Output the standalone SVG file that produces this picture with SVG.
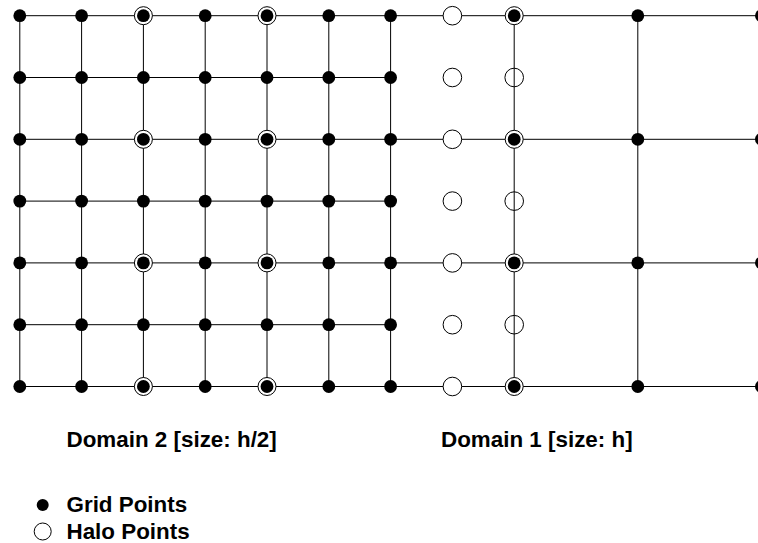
<svg xmlns="http://www.w3.org/2000/svg" width="758" height="543" viewBox="0 0 758 543">
<style>
.ln{stroke:#000;stroke-width:1;fill:none}
.lbl{font-family:"Liberation Sans",Arial,sans-serif;font-weight:bold;font-size:22.4px;fill:#000}
</style>
<defs>
<circle id="dot" r="6.4" fill="#000"/>
<g id="ringdot"><circle r="9" fill="#fff" stroke="#000" stroke-width="1"/><circle r="6.4" fill="#000"/></g>
<circle id="halo" r="9.3" fill="#fff" stroke="#000" stroke-width="1"/>
<circle id="haloopen" r="9.3" fill="none" stroke="#000" stroke-width="1"/>
</defs>
<rect width="758" height="543" fill="#fff"/>
<g id="connectors" class="ln">
<path d="M19.8 15.7H758M19.8 139.3H758M19.8 262.9H758M19.8 386.5H758"/>
<path d="M19.8 77.5H390.6M19.8 201.1H390.6M19.8 324.7H390.6"/>
<path d="M19.8 15.7V386.5M81.6 15.7V386.5M143.4 15.7V386.5M205.2 15.7V386.5M267 15.7V386.5M328.8 15.7V386.5M390.6 15.7V386.5M514.2 15.7V386.5M637.8 15.7V386.5"/>
</g>
<g id="domain2">
<g id="n0-0"><use href="#dot" x="19.8" y="15.7"/></g>
<g id="n0-1"><use href="#dot" x="19.8" y="77.5"/></g>
<g id="n0-2"><use href="#dot" x="19.8" y="139.3"/></g>
<g id="n0-3"><use href="#dot" x="19.8" y="201.1"/></g>
<g id="n0-4"><use href="#dot" x="19.8" y="262.9"/></g>
<g id="n0-5"><use href="#dot" x="19.8" y="324.7"/></g>
<g id="n0-6"><use href="#dot" x="19.8" y="386.5"/></g>
<g id="n1-0"><use href="#dot" x="81.6" y="15.7"/></g>
<g id="n1-1"><use href="#dot" x="81.6" y="77.5"/></g>
<g id="n1-2"><use href="#dot" x="81.6" y="139.3"/></g>
<g id="n1-3"><use href="#dot" x="81.6" y="201.1"/></g>
<g id="n1-4"><use href="#dot" x="81.6" y="262.9"/></g>
<g id="n1-5"><use href="#dot" x="81.6" y="324.7"/></g>
<g id="n1-6"><use href="#dot" x="81.6" y="386.5"/></g>
<g id="n2-0"><use href="#ringdot" x="143.4" y="15.7"/></g>
<g id="n2-1"><use href="#dot" x="143.4" y="77.5"/></g>
<g id="n2-2"><use href="#ringdot" x="143.4" y="139.3"/></g>
<g id="n2-3"><use href="#dot" x="143.4" y="201.1"/></g>
<g id="n2-4"><use href="#ringdot" x="143.4" y="262.9"/></g>
<g id="n2-5"><use href="#dot" x="143.4" y="324.7"/></g>
<g id="n2-6"><use href="#ringdot" x="143.4" y="386.5"/></g>
<g id="n3-0"><use href="#dot" x="205.2" y="15.7"/></g>
<g id="n3-1"><use href="#dot" x="205.2" y="77.5"/></g>
<g id="n3-2"><use href="#dot" x="205.2" y="139.3"/></g>
<g id="n3-3"><use href="#dot" x="205.2" y="201.1"/></g>
<g id="n3-4"><use href="#dot" x="205.2" y="262.9"/></g>
<g id="n3-5"><use href="#dot" x="205.2" y="324.7"/></g>
<g id="n3-6"><use href="#dot" x="205.2" y="386.5"/></g>
<g id="n4-0"><use href="#ringdot" x="267" y="15.7"/></g>
<g id="n4-1"><use href="#dot" x="267" y="77.5"/></g>
<g id="n4-2"><use href="#ringdot" x="267" y="139.3"/></g>
<g id="n4-3"><use href="#dot" x="267" y="201.1"/></g>
<g id="n4-4"><use href="#ringdot" x="267" y="262.9"/></g>
<g id="n4-5"><use href="#dot" x="267" y="324.7"/></g>
<g id="n4-6"><use href="#ringdot" x="267" y="386.5"/></g>
<g id="n5-0"><use href="#dot" x="328.8" y="15.7"/></g>
<g id="n5-1"><use href="#dot" x="328.8" y="77.5"/></g>
<g id="n5-2"><use href="#dot" x="328.8" y="139.3"/></g>
<g id="n5-3"><use href="#dot" x="328.8" y="201.1"/></g>
<g id="n5-4"><use href="#dot" x="328.8" y="262.9"/></g>
<g id="n5-5"><use href="#dot" x="328.8" y="324.7"/></g>
<g id="n5-6"><use href="#dot" x="328.8" y="386.5"/></g>
<g id="n6-0"><use href="#dot" x="390.6" y="15.7"/></g>
<g id="n6-1"><use href="#dot" x="390.6" y="77.5"/></g>
<g id="n6-2"><use href="#dot" x="390.6" y="139.3"/></g>
<g id="n6-3"><use href="#dot" x="390.6" y="201.1"/></g>
<g id="n6-4"><use href="#dot" x="390.6" y="262.9"/></g>
<g id="n6-5"><use href="#dot" x="390.6" y="324.7"/></g>
<g id="n6-6"><use href="#dot" x="390.6" y="386.5"/></g>
</g>
<g id="halo-column">
<g id="h-0"><use href="#halo" x="452.4" y="15.7"/></g>
<g id="h-1"><use href="#halo" x="452.4" y="77.5"/></g>
<g id="h-2"><use href="#halo" x="452.4" y="139.3"/></g>
<g id="h-3"><use href="#halo" x="452.4" y="201.1"/></g>
<g id="h-4"><use href="#halo" x="452.4" y="262.9"/></g>
<g id="h-5"><use href="#halo" x="452.4" y="324.7"/></g>
<g id="h-6"><use href="#halo" x="452.4" y="386.5"/></g>
</g>
<g id="domain1">
<g id="n7-0"><use href="#ringdot" x="514.2" y="15.7"/></g>
<g id="n7-1"><use href="#haloopen" x="514.2" y="77.5"/></g>
<g id="n7-2"><use href="#ringdot" x="514.2" y="139.3"/></g>
<g id="n7-3"><use href="#haloopen" x="514.2" y="201.1"/></g>
<g id="n7-4"><use href="#ringdot" x="514.2" y="262.9"/></g>
<g id="n7-5"><use href="#haloopen" x="514.2" y="324.7"/></g>
<g id="n7-6"><use href="#ringdot" x="514.2" y="386.5"/></g>
<g id="n8-0"><use href="#dot" x="637.8" y="15.7"/></g>
<g id="n8-2"><use href="#dot" x="637.8" y="139.3"/></g>
<g id="n8-4"><use href="#dot" x="637.8" y="262.9"/></g>
<g id="n8-6"><use href="#dot" x="637.8" y="386.5"/></g>
<g id="n9-0"><use href="#dot" x="761.4" y="15.7"/></g>
<g id="n9-2"><use href="#dot" x="761.4" y="139.3"/></g>
<g id="n9-4"><use href="#dot" x="761.4" y="262.9"/></g>
<g id="n9-6"><use href="#dot" x="761.4" y="386.5"/></g>
</g>
<g id="labels">
<text class="lbl" x="66.5" y="447">Domain 2 [size: h/2]</text>
<text class="lbl" x="441" y="447">Domain 1 [size: h]</text>
</g>
<g id="legend">
<circle cx="42.7" cy="505" r="6" fill="#000"/>
<text class="lbl" x="66.5" y="511.5">Grid Points</text>
<circle cx="42.7" cy="531.5" r="8.5" fill="#fff" stroke="#000" stroke-width="1"/>
<text class="lbl" x="66.5" y="538.5">Halo Points</text>
</g>
</svg>
